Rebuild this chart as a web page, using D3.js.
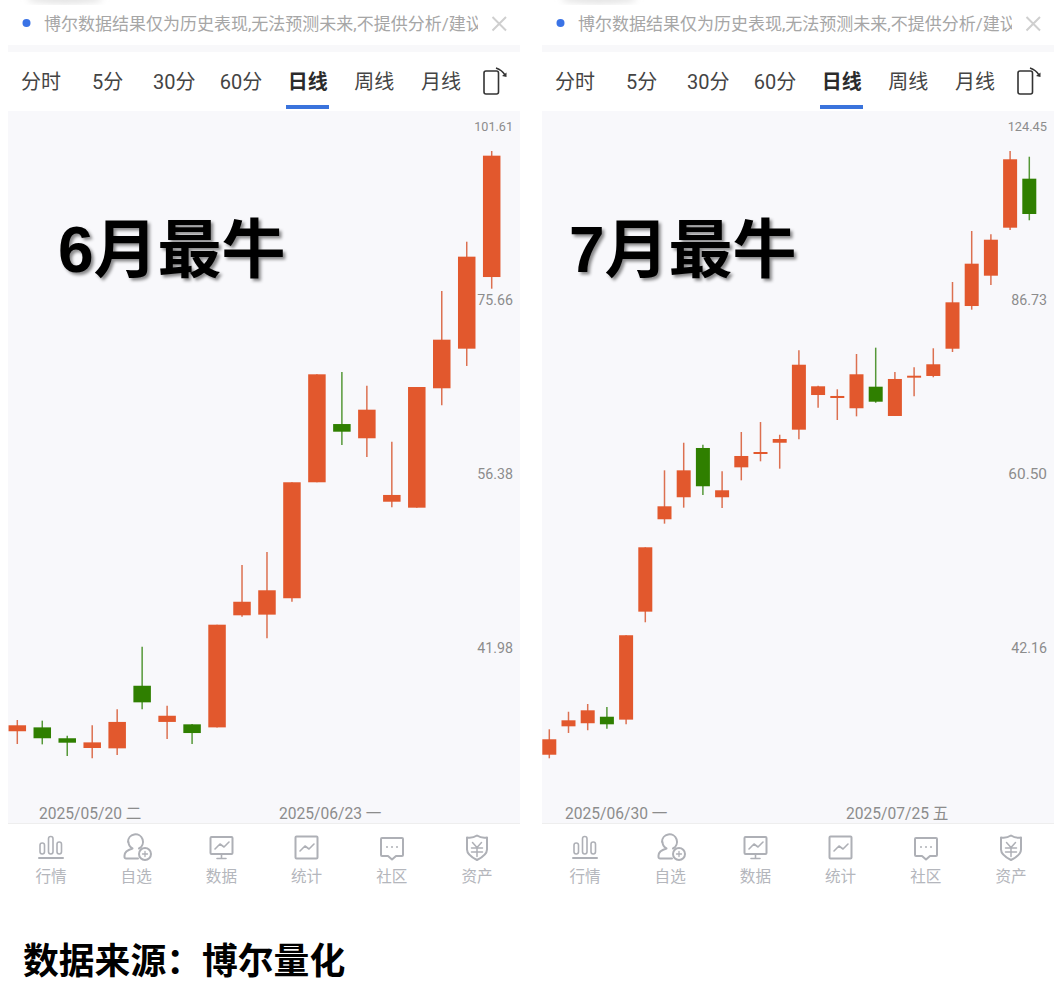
<!DOCTYPE html>
<html><head><meta charset="utf-8"><style>
html,body{margin:0;background:#fff}svg{display:block}
text{font-family:Roboto,"Noto Sans CJK SC",sans-serif}
</style></head><body><svg id="c" width="1054" height="1004"></svg>
<script src="https://cdn.jsdelivr.net/npm/d3@7"></script>
<script>
// June panel
const juneOpen =[36.46,36.70,36.03,35.44,35.42,39.38,37.04,36.89,36.70,44.37,44.42,45.67,55.58,61.34,59.88,53.78,53.24,65.17,69.69,78.68];
const juneHigh =[37.16,37.12,36.19,36.83,37.84,42.07,38.07,36.91,43.67,48.32,49.39,55.58,66.73,66.99,65.46,59.53,65.31,76.84,83.53,97.40];
const juneLow  =[35.68,35.66,34.96,34.83,35.02,37.84,35.98,35.68,36.70,44.27,42.68,45.40,55.58,59.20,58.01,53.27,53.24,63.32,67.68,77.14];
const juneClose=[36.83,36.03,35.76,35.78,37.04,38.29,37.43,36.35,43.67,45.40,46.29,55.58,66.73,60.55,62.85,54.40,65.31,70.76,81.44,96.63];
const juneTicks=[101.61,75.66,56.38,41.98];
const juneDates=["2025/05/20 二","2025/06/23 一"];
// July panel
const julyOpen =[33.79,35.84,36.07,36.56,36.34,45.46,55.06,57.63,63.83,57.63,61.32,63.04,64.53,66.30,71.24,70.80,69.31,72.48,68.21,73.85,74.11,78.42,85.68,91.24,100.79,111.57];
const julyHigh =[35.62,36.94,37.54,37.31,43.29,51.95,60.94,64.53,64.27,60.82,65.98,67.36,65.61,78.16,72.63,72.09,77.57,78.59,74.72,75.46,78.49,90.05,100.10,99.42,118.16,116.77];
const julyLow  =[33.54,35.35,35.55,35.66,35.99,44.47,54.56,56.40,57.90,56.36,59.69,62.09,61.15,64.99,69.39,67.64,68.16,70.11,68.21,71.05,73.91,77.89,85.03,89.50,100.31,102.35];
const julyClose=[34.89,36.29,37.05,35.99,43.29,51.95,56.56,60.94,58.96,58.47,62.78,63.30,65.03,75.86,72.54,71.10,74.37,70.26,73.65,74.15,75.93,86.34,93.54,98.31,116.15,103.69];
const julyTicks=[124.45,86.73,60.50,42.16];
const julyDates=["2025/06/30 一","2025/07/25 五"];
const tabs=["分时","5分","30分","60分","日线","周线","月线"];
const navLabels=["行情","自选","数据","统计","社区","资产"];
const notice="博尔数据结果仅为历史表现,无法预测未来,不提供分析/建议";

const UP="#e2582d",DOWN="#2f7f00",WU="#dc7050",WD="#559838";
const svg=d3.select("#c");
const defs=svg.append("defs");
defs.append("filter").attr("id","sh").attr("x","-10%").attr("y","-10%").attr("width","125%").attr("height","125%")
  .append("feDropShadow").attr("dx",2.5).attr("dy",2.5).attr("stdDeviation",1.8).attr("flood-color","#000").attr("flood-opacity",.45);
defs.append("filter").attr("id","bl").append("feGaussianBlur").attr("stdDeviation",3);

function panel(ox,id,o,h,l,c,ticks,dates,xr,bw,title,titleX,dateX,tickSize){
  const g=svg.append("g");
  const P=(x)=>ox+x;
  defs.append("clipPath").attr("id","cp"+id).append("rect").attr("x",P(0)).attr("y",111).attr("width",512).attr("height",712);
  defs.append("clipPath").attr("id","tp"+id).append("rect").attr("x",P(0)).attr("y",0).attr("width",470).attr("height",45);
  // notice
  g.append("ellipse").attr("cx",P(57)).attr("cy",-1).attr("rx",38).attr("ry",5).attr("fill","#e4e4e4").attr("filter","url(#bl)");
  g.append("circle").attr("cx",P(18.5)).attr("cy",23).attr("r",4).attr("fill","#3a73e6");
  g.append("text").attr("x",P(36)).attr("y",29.5).attr("font-size",17).attr("fill","#a6a6a6").attr("clip-path",`url(#tp${id})`).text(notice);
  g.append("path").attr("d",`M${P(484.5)} 17L${P(498)} 30.5M${P(498)} 17L${P(484.5)} 30.5`).attr("stroke","#cfcfcf").attr("stroke-width",2).attr("fill","none");
  g.append("rect").attr("x",P(0)).attr("y",45).attr("width",512).attr("height",7).attr("fill","#f8f8fa");
  // tabs
  const tabX=d3.scalePoint().domain(tabs).range([P(33),P(433)]);
  g.selectAll(".tab").data(tabs).join("text").attr("x",d=>tabX(d)).attr("y",88.7).attr("text-anchor","middle")
    .attr("font-size",20).attr("font-weight",d=>d==="日线"?700:400).attr("fill",d=>d==="日线"?"#2b2b2b":"#444").text(d=>d);
  g.append("rect").attr("x",P(278)).attr("y",105).attr("width",43).attr("height",4).attr("fill","#3a73dc");
  g.append("rect").attr("x",P(476)).attr("y",71).attr("width",14.5).attr("height",23).attr("rx",2).attr("fill","none").attr("stroke","#333").attr("stroke-width",1.6);
  g.append("path").attr("d",`M${P(488)} 68Q${P(494)} 70 ${P(497)} 75`).attr("fill","none").attr("stroke","#333").attr("stroke-width",1.5);
  g.append("path").attr("d",`M${P(494)} 76L${P(498.5)} 72.5L${P(498.5)} 77Z`).attr("fill","#333");
  // chart bg
  g.append("rect").attr("x",P(0)).attr("y",111).attr("width",512).attr("height",712).attr("fill","#f8f8fb");
  g.append("line").attr("x1",P(0)).attr("x2",P(512)).attr("y1",823.5).attr("y2",823.5).attr("stroke","#eeeeee");
  const y=d3.scaleLog().domain([ticks[3],ticks[0]]).range([648,126]);
  const x=d3.scaleLinear().domain([0,o.length-1]).range(xr);
  const idx=d3.range(o.length);
  const plot=g.append("g").attr("clip-path",`url(#cp${id})`);
  plot.selectAll(".w").data(idx).join("line").attr("x1",i=>x(i)).attr("x2",i=>x(i)).attr("y1",i=>y(h[i])).attr("y2",i=>y(l[i]))
    .attr("stroke",i=>c[i]>=o[i]?WU:WD).attr("stroke-width",1.5);
  plot.selectAll(".b").data(idx).join("rect").attr("x",i=>x(i)-bw/2).attr("width",bw)
    .attr("y",i=>y(Math.max(o[i],c[i]))).attr("height",i=>Math.max(1.5,Math.abs(y(o[i])-y(c[i]))))
    .attr("fill",i=>c[i]>=o[i]?UP:DOWN);
  // ticks
  g.selectAll(".t").data(ticks).join("text").attr("x",P(505)).attr("y",d=>y(d)+5).attr("text-anchor","end")
    .attr("font-size",(d,i)=>tickSize[i]).attr("fill","#8c8c8c").text(d=>d.toFixed(2));
  // dates
  g.selectAll(".d").data(dates).join("text").attr("x",(d,i)=>P(dateX[i])).attr("y",818.7).attr("font-size",15.6).attr("fill","#8c8c8c").text(d=>d);
  // title
  g.append("text").attr("x",P(titleX)).attr("y",272).attr("font-size",64).attr("font-weight",700).attr("fill","#000").attr("filter","url(#sh)")
    .style("font-family",'"Liberation Sans","Noto Sans CJK SC",sans-serif').text(title);
  // nav
  const navX=d3.scalePoint().domain(navLabels).range([P(43),P(469)]);
  g.selectAll(".n").data(navLabels).join("text").attr("x",d=>navX(d)).attr("y",881.7).attr("text-anchor","middle")
    .attr("font-size",15.6).attr("fill","#b4b6bc").text(d=>d);
  const ic=g.append("g").attr("fill","none").attr("stroke","#aeb0b6").attr("stroke-width",2).attr("stroke-linecap","round").attr("stroke-linejoin","round").attr("transform",`translate(${ox},0)`);
  // 行情
  [[32,843],[40.5,836.5],[49,842]].forEach(a=>ic.append("rect").attr("x",a[0]).attr("y",a[1]).attr("width",4.5).attr("height",854-a[1]).attr("rx",2.2).attr("stroke-width",1.6));
  ic.append("path").attr("d","M31 858H55");
  // 自选
  ic.append("path").attr("d","M120 842a7.5 7.5 0 1 1 11 6.5M120.5 842a7.5 7.5 0 0 0 4 6.5c-5 1.5-8 4-8 7v1.500a1.500 1.500 0 0 0 1.500 1.500h12");
  ic.append("circle").attr("cx",137).attr("cy",854).attr("r",6);
  ic.append("path").attr("d","M137 851.500v5M134.500 854h5").attr("stroke-width",1.3);
  // 数据
  ic.append("rect").attr("x",202.5).attr("y",837).attr("width",22).attr("height",17).attr("rx",1);
  ic.append("path").attr("d","M207 849l5-5 4 3 5-5M213.500 854v3.500M209 858.500h9").attr("stroke-width",1.6);
  // 统计
  ic.append("rect").attr("x",287.5).attr("y",836.5).attr("width",22).attr("height",22).attr("rx",1);
  ic.append("path").attr("d","M292 851l5-5 4 3 5-5").attr("stroke-width",1.6);
  // 社区
  ic.append("path").attr("d","M374 838h20a1 1 0 0 1 1 1v16a1 1 0 0 1-1 1h-6l-4 3.500-4-3.500h-6a1 1 0 0 1-1-1v-16a1 1 0 0 1 1-1z");
  [379,384,389].forEach(cx=>ic.append("circle").attr("cx",cx).attr("cy",847).attr("r",1).attr("fill","#aeb0b6").attr("stroke","none"));
  // 资产
  ic.append("path").attr("d","M469 835.500c3 2 7 2.500 10 2v12c0 5-5 8-10 10.500c-5-2.500-10-5.500-10-10.500v-12c3 .5 7 0 10-2z");
  ic.append("path").attr("d","M464.500 842.500l4.500 5l4.500-5M463.500 848h11M463.500 852h11M469 847.500v9").attr("stroke-width",1.5);
}
panel(8,1,juneOpen,juneHigh,juneLow,juneClose,juneTicks,juneDates,[17.3,491.7],17.5,"6月最牛",50,[31,271],[12.6,14.2,14.2,14.2]);
panel(542,2,julyOpen,julyHigh,julyLow,julyClose,julyTicks,julyDates,[549.3,1029.3],14,"7月最牛",27,[23,304],[12.8,14.2,15.4,14.2]);
svg.append("text").attr("x",23).attr("y",974).attr("font-size",35.8).attr("font-weight",700).attr("fill","#000").style("font-family",'"Noto Sans CJK SC"').text("数据来源：博尔量化");
</script></body></html>
